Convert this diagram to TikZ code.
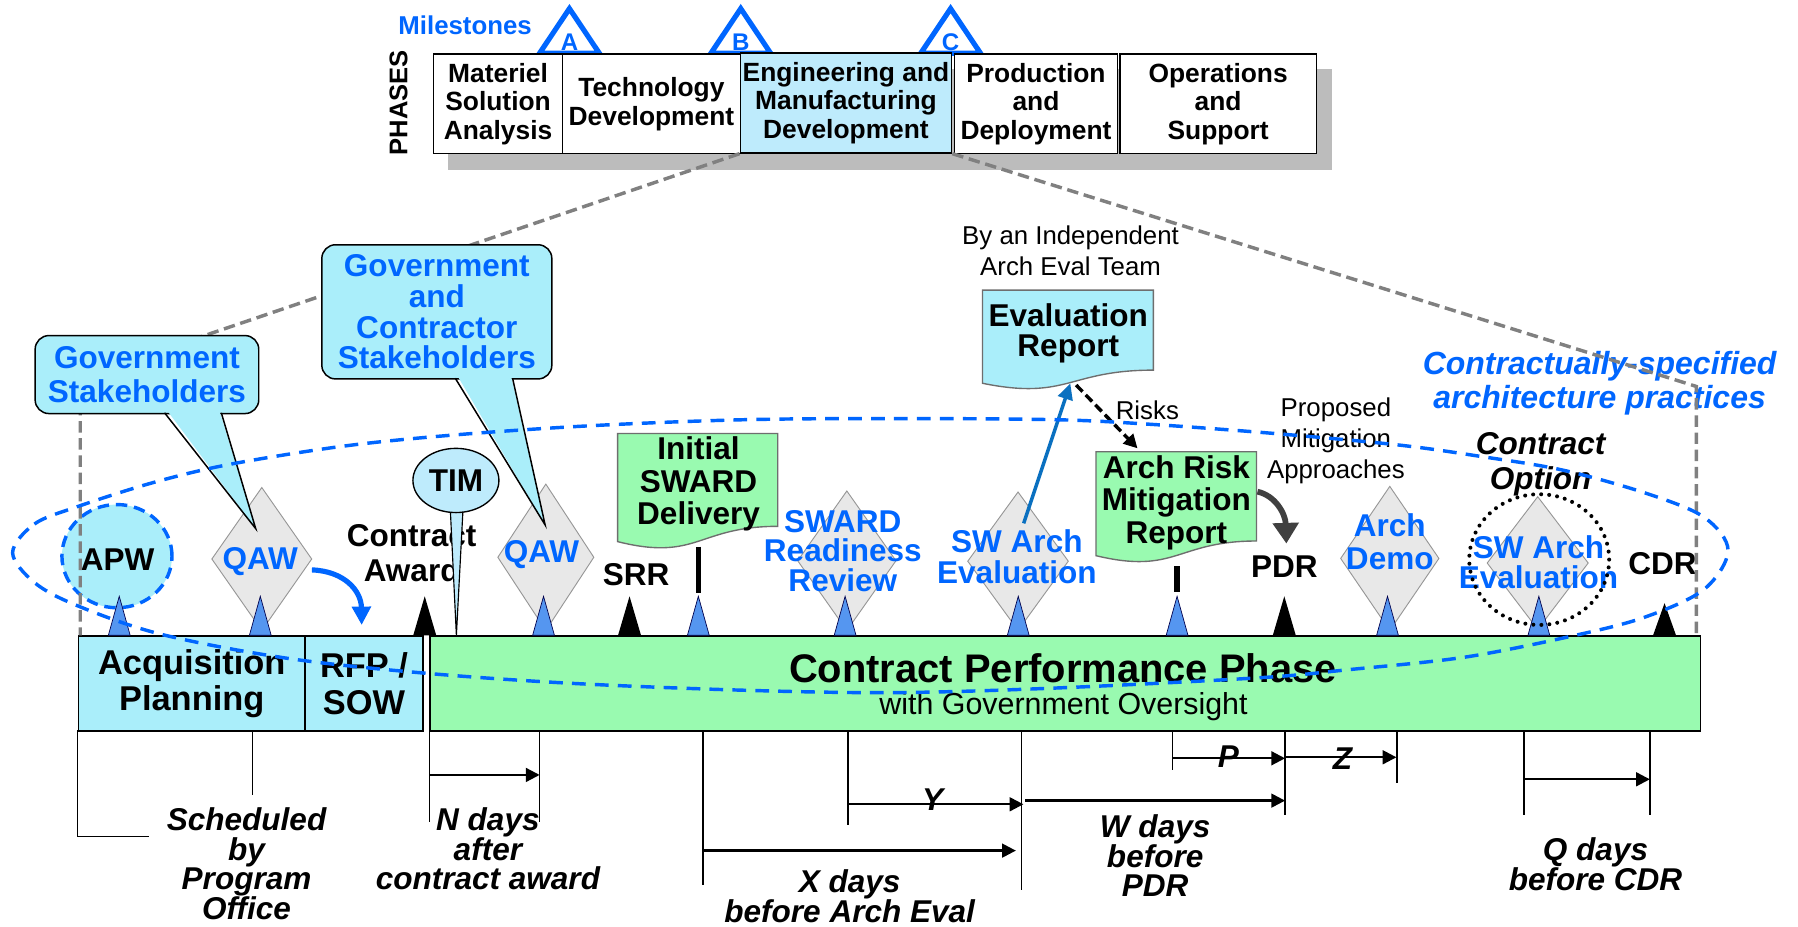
\documentclass[tikz,border=0pt]{standalone}
\usepackage{fontspec}
\setmainfont{Liberation Sans}
\usetikzlibrary{shapes.geometric,arrows.meta,calc}
\definecolor{mblue}{RGB}{0,102,255}
\definecolor{cyanfill}{RGB}{170,238,250}
\definecolor{emdfill}{RGB}{190,235,252}
\definecolor{grnfill}{RGB}{153,250,176}
\definecolor{diafill}{RGB}{232,232,232}
\definecolor{diaedge}{RGB}{150,150,150}
\definecolor{trifill}{RGB}{85,150,240}
\definecolor{gline}{RGB}{128,128,128}
\definecolor{shad}{RGB}{188,188,188}
\definecolor{arrblue}{RGB}{10,112,192}
\definecolor{curvgray}{RGB}{64,64,64}
\definecolor{docedge}{RGB}{110,110,110}
\newcommand{\fz}[2]{\fontsize{#1}{#2}\selectfont}
\newcommand{\docshape}[5]{\draw[#5] (#1,#2) -- ({#1+#3},#2) -- ({#1+#3},{#2+0.802*#4}) .. controls ({#1+0.5*#3},{#2+0.802*#4}) and ({#1+0.5*#3},{#2+1.107*#4}) .. (#1,{#2+0.934*#4}) -- cycle;}
\newcommand{\btri}[1]{\draw[bluetri] ({#1-9.5},554) -- (#1,520) -- ({#1+9.5},554) -- cycle;}
\newcommand{\ktri}[2]{\fill ({#1-10},554) -- (#1,#2) -- ({#1+10},554) -- cycle;}
\begin{document}
\begin{tikzpicture}[x=1pt,y=-1pt,
  lbl/.style={inner sep=0pt, align=center, font=\bfseries\fz{27.5}{28}},
  bluelbl/.style={lbl, text=mblue},
  plain/.style={inner sep=0pt, align=center, font=\fz{22.5}{27}},
  itl/.style={inner sep=0pt, align=center, font=\bfseries\itshape\fz{27.5}{25.5}},
  phasebox/.style={draw=black, line width=1.2pt, fill=white, anchor=north west, minimum height=87, inner sep=0pt, align=center, font=\bfseries\fz{23}{25}},
  mstri/.style={draw=mblue, line width=4.5pt, fill=white, line join=miter},
  mslet/.style={font=\bfseries\fz{21}{21}, text=mblue, inner sep=0pt},
  dia/.style={diamond, draw=diaedge, fill=diafill, line width=0.8pt, inner sep=0pt},
  bluetri/.style={draw=black!70!blue, fill=trifill, line width=0.6pt},
  gdash/.style={draw=gline, line width=3pt, dash pattern=on 10pt off 5pt},
  bdash/.style={draw=mblue, line width=3pt, dash pattern=on 12pt off 8pt},
  callout/.style={draw=black, fill=cyanfill, line width=1.3pt, rounded corners=12pt, anchor=north west, inner sep=0pt, align=center, text=mblue, font=\bfseries\fz{27.5}{29}},
  barbox/.style={draw=black, line width=1.5pt, anchor=north west, minimum height=83, inner sep=0pt, align=center, font=\bfseries\fz{30}{32}},
  dim/.style={line width=1.3pt},
  dimarrow/.style={line width=2pt, -{Triangle[length=12pt,width=12pt]}},
]
\useasboundingbox (0,0) rectangle (1568,808);
\fill[white] (0,0) rectangle (1568,808);

% ---- phase shadow ----
\fill[shad] (391,60.5) rectangle (1162,148.3);

% ---- milestones ----
\node[font=\bfseries\fz{22.5}{23}, text=mblue, inner sep=0pt] (ms) at (405.6,21.8) {Milestones};
\draw[mstri] (470.5,46.5) -- (496.6,7.5) -- (522.7,46.5) -- cycle;
\draw[mstri] (619.9,46.5) -- (646,7.5) -- (672.1,46.5) -- cycle;
\draw[mstri] (802.9,46.5) -- (829,7.5) -- (855.1,46.5) -- cycle;
\node[mslet] (mA) at (496.6,36.8) {A};
\node[mslet] (mB) at (646,36.8) {B};
\node[mslet] (mC) at (829,36.8) {C};
\node[font=\bfseries\fz{22.3}{23}, rotate=90, inner sep=0pt] (ph) at (347.5,89.4) {PHASES};

% ---- phase boxes ----
\node[phasebox, minimum width=112.5] (msa) at (377.5,46.5) {Materiel\\Solution\\Analysis};
\node[phasebox, minimum width=155] (td) at (490,46.5) {Technology\\Development};
\node[phasebox, minimum width=184, fill=emdfill, line width=1.5pt] (emd) at (645,45.5) {Engineering and\\Manufacturing\\Development};
\node[phasebox, minimum width=141.9] (pd) at (831.9,46.5) {Production\\and\\Deployment};
\node[phasebox, minimum width=171.2] (os) at (976.1,46.5) {Operations\\and\\Support};

% ---- main bar ----
\node[barbox, fill=cyanfill, minimum width=197.7] (acq) at (67.6,554) {Acquisition\\Planning};
\node[barbox, fill=cyanfill, minimum width=102.7] (rfp) at (265.3,554) {RFP /\\SOW};
\node[barbox, fill=grnfill, minimum width=1107.8] (cpp) at (374.4,554) {};
\node[font=\bfseries\fz{34.8}{36}, inner sep=0pt] (cppt) at (927,582.8) {Contract Performance Phase};
\node[font=\fz{26.5}{27}, inner sep=0pt] (cpps) at (927.5,616.2) {with Government Oversight};

% ---- bottom dimension lines ----
\draw[dim] (67.6,637) -- (67.6,729.6) -- (130,729.6);
\draw[dim] (220.3,637) -- (220.3,693.3);
\draw[dim] (374.4,637) -- (374.4,716.5);
\draw[dim] (470.6,637) -- (470.6,716.5);
\draw[dimarrow] (374.4,675.8) -- (470.6,675.8);
\draw[dim] (613.2,637) -- (613.2,771.8);
\draw[dimarrow] (613.2,741.8) -- (885.9,741.8);
\draw[dim] (739.4,637) -- (739.4,719.4);
\draw[dimarrow] (739.4,701.4) -- (892.5,701.4);
\draw[dim] (891,637) -- (891,776);
\draw[dimarrow] (894,698.2) -- (1120.7,698.2);
\draw[dim] (1120.7,637) -- (1120.7,710.7);
\draw[dim] (1022.7,637) -- (1022.7,671.5);
\draw[dimarrow] (1022.7,661.3) -- (1120.7,661.3);
\draw[dimarrow] (1120.7,660.4) -- (1217.8,660.4);
\draw[dim] (1218.3,637) -- (1218.3,683);
\draw[dim] (1329,637) -- (1329,710.7);
\draw[dim] (1438.8,637) -- (1438.8,710.7);
\draw[dimarrow] (1329,679.6) -- (1438.8,679.6);

\node[itl] (sched) at (215,753.5) {Scheduled\\by\\Program\\Office};
\node[itl, font=\bfseries\itshape\fz{27.5}{25}] (ndays) at (425.5,740) {N days\\after\\contract award};
\node[itl, font=\bfseries\itshape\fz{27.5}{24.5}] (xdays) at (741,781.5) {X days\\before Arch Eval};
\node[itl] (ylab) at (813.4,697) {Y};
\node[itl, font=\bfseries\itshape\fz{27.5}{25.2}] (wdays) at (1007.4,746) {W days\\before\\PDR};
\node[itl] (plab) at (1071.2,659.8) {P};
\node[itl] (zlab) at (1170.8,661.3) {Z};
\node[itl, font=\bfseries\itshape\fz{27.5}{24.8}] (qdays) at (1391.4,753.6) {Q days\\before CDR};

% ---- diamonds ----
\node[dia, minimum width=87.4, minimum height=125] (qaw1d) at (228.3,487.5) {};
\node[dia, minimum width=84, minimum height=128] (qaw2d) at (476,486) {};
\node[dia, minimum width=86, minimum height=122] (swrrd) at (738.5,489) {};
\node[dia, minimum width=88, minimum height=121] (swa1d) at (887.8,489.4) {};
\node[dia, minimum width=86, minimum height=126] (add) at (1212,487) {};
\node[dia, minimum width=88.4, minimum height=116] (swa2d) at (1341,491) {};

% ---- APW ----
\node[ellipse, draw=mblue, line width=3pt, dash pattern=on 10pt off 6pt, fill=cyanfill, minimum width=96, minimum height=90] (apwc) at (102,485) {};
\node[lbl] (apw) at (102.6,488) {APW};

% ---- bar triangles ----
\btri{104}
\btri{227}
\btri{474}
\btri{609}
\btri{737}
\btri{888}
\btri{1026.5}
\btri{1210}
\btri{1342}
\ktri{370.4}{520}
\ktri{549}{520}
\ktri{1120}{520}
\ktri{1451.6}{526}

% ---- labels ----
\node[bluelbl] (qaw1) at (227,490) {QAW};
\node[bluelbl] (qaw2) at (472.3,484) {QAW};
\node[lbl, font=\bfseries\fz{27.5}{30.5}] (ca) at (359,482) {Contract\\Award};
\node[lbl] (srr) at (554.8,501.5) {SRR};
\node[lbl] (pdr) at (1120,494.2) {PDR};
\node[lbl] (cdr) at (1449.8,491.3) {CDR};
\node[bluelbl, font=\bfseries\fz{27.5}{25.5}] (swrr) at (735,480.6) {SWARD\\Readiness\\Review};
\node[bluelbl, font=\bfseries\fz{27.5}{26.2}] (swa1) at (886.8,485.5) {SW Arch\\Evaluation};
\node[bluelbl, font=\bfseries\fz{27.5}{29}] (ad) at (1212,472.5) {Arch\\Demo};
\node[bluelbl, font=\bfseries\fz{27.5}{26.2}] (swa2) at (1341.7,490) {SW Arch\\Evaluation};

% ---- TIM ----
\draw[fill=emdfill, draw=black, line width=1pt] (392.5,440) -- (398,554) -- (404,440) -- cycle;
\node[ellipse, draw=black, line width=1.2pt, fill=emdfill, minimum width=75, minimum height=56, inner sep=0pt, font=\bfseries\fz{27.5}{28}] (tim) at (397.6,419) {TIM};

% ---- documents ----
\docshape{538.6}{378}{139.6}{101}{draw=docedge, fill=grnfill, line width=1.2pt}
\node[lbl] (isd) at (609.2,422) {Initial\\SWARD\\Delivery};
\draw[line width=4.5pt] (609,476.8) -- (609,517.5);
\docshape{955.8}{394}{140}{97}{draw=docedge, fill=grnfill, line width=1.2pt}
\node[lbl, font=\bfseries\fz{27.5}{28.3}] (arm) at (1025.9,438.3) {Arch Risk\\Mitigation\\Report};
\draw[line width=4.5pt] (1026.4,494) -- (1026.4,516);
\docshape{856.8}{253}{149}{87}{draw=docedge, fill=cyanfill, line width=1.2pt}
\node[lbl, font=\bfseries\fz{27.5}{26}] (er) at (931.6,290.7) {Evaluation\\Report};
\node[plain, font=\fz{22.5}{27.6}] (indep) at (933.6,218.8) {By an Independent\\Arch Eval Team};

% ---- arrows ----
\coordinate (swa1top) at (892.7,456.4);
\coordinate (erbot) at (933.4,334.3);
\coordinate (erbot2) at (938.5,335.8);
\coordinate (armtop) at (992,391);
\coordinate (armright) at (1096.6,428.8);
\coordinate (pdrtop) at (1121.8,474);
\coordinate (qawright) at (272,497);
\coordinate (rfptop) at (315.4,545);
\draw[arrblue, line width=3pt, -{Triangle[length=14pt,width=13pt]}] (swa1top) -- (erbot);
\draw[line width=3pt, dash pattern=on 8pt off 4pt, -{Triangle[length=12pt,width=12pt]}] (erbot2) -- (armtop);
\node[plain] (risks) at (1000.6,357.6) {Risks};
\draw[curvgray, line width=5pt, -{Triangle[length=18pt,width=22pt]}] (armright) .. controls (1112,432) and (1121,448) .. (pdrtop);
\draw[mblue, line width=4.5pt, -{Triangle[length=16pt,width=16pt]}] (qawright) .. controls (300,498) and (315,515) .. (rfptop);
\node[plain] (prop) at (1165,384.7) {Proposed\\Mitigation\\Approaches};
\node[itl, font=\bfseries\itshape\fz{27.5}{30.5}] (co) at (1343.5,404.8) {Contract\\Option};

\node[font=\bfseries\itshape\fz{27.9}{29}, text=mblue, align=center, inner sep=0pt] (csap) at (1395,334.3) {Contractually-specified\\architecture practices};

% ---- gray dashed zoom lines ----
\coordinate (lcorner) at (70,329.5);
\coordinate (lbottom) at (70,554);
\coordinate (rcorner) at (1479.3,337);
\coordinate (rbottom) at (1479.3,554);
\draw[gdash] (emd.south west) -- (lcorner) -- (lbottom);
\draw[gdash] (emd.south east) -- (rcorner) -- (rbottom);

% ---- callouts ----
\node[callout, minimum width=195, minimum height=68] (gs) at (30,292) {Government\\Stakeholders};
\fill[cyanfill] (145,357) -- (223,461) -- (191,357) -- cycle;
\draw[line width=1.3pt, line join=miter] (143.5,360) -- (223,461) -- (193,360);
\node[callout, minimum width=200.6, minimum height=117, font=\bfseries\fz{27.5}{26.7}] (gcs) at (280,212.8) {Government\\and\\Contractor\\Stakeholders};
\fill[cyanfill] (398.5,327) -- (475.4,457.8) -- (445.5,327) -- cycle;
\draw[line width=1.3pt, line join=miter] (397,329.8) -- (475.4,457.8) -- (447,329.8);

% ---- big dashed ellipse ----
\draw[bdash] plot[smooth cycle, tension=0.55] coordinates {(11,482) (30,457) (67,442) (133,421) (200,405) (300,389) (400,379) (520,371) (650,366) (781,365) (920,366) (1003,370) (1111,378) (1219,388) (1291,398) (1363,410) (1435,430) (1486,451) (1507,480) (1486,514) (1435,538) (1374,554) (1278,573) (1176,584) (1099,591) (921,600) (781,604) (651,602) (500,596) (370,587) (250,574) (140,553) (67,528) (30,508)};

% ---- dotted circle ----
\node[ellipse, draw=black, line width=3.5pt, dash pattern=on 0pt off 7pt, line cap=round, minimum width=122, minimum height=114] (dc) at (1342.3,488) {};
\end{tikzpicture}
\end{document}
